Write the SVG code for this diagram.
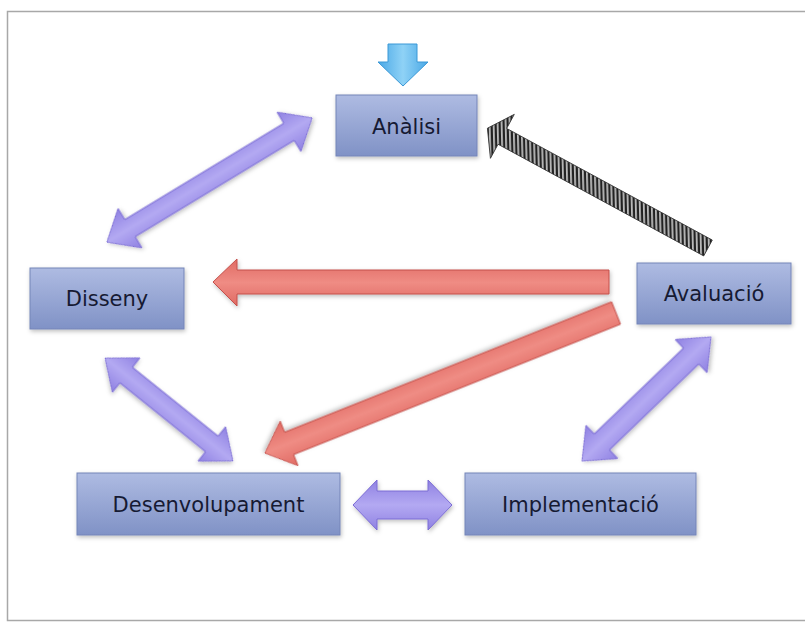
<svg xmlns="http://www.w3.org/2000/svg" width="805" height="626" viewBox="0 0 805 626">
<defs>
<linearGradient id="boxg" x1="0" y1="0" x2="0" y2="1">
<stop offset="0" stop-color="#aebbe2"/>
<stop offset="1" stop-color="#8092c6"/>
</linearGradient>
<linearGradient id="purg" x1="0" y1="0" x2="0" y2="1">
<stop offset="0" stop-color="#8f81e2"/>
<stop offset="0.5" stop-color="#b3a9f2"/>
<stop offset="1" stop-color="#8f81e2"/>
</linearGradient>
<linearGradient id="redg" x1="0" y1="0" x2="0" y2="1">
<stop offset="0" stop-color="#e06a63"/>
<stop offset="0.5" stop-color="#ef8c84"/>
<stop offset="1" stop-color="#e06a63"/>
</linearGradient>
<linearGradient id="blueg" x1="0" y1="0" x2="1" y2="0">
<stop offset="0" stop-color="#4aa8e6"/>
<stop offset="0.5" stop-color="#8fd2f6"/>
<stop offset="1" stop-color="#4aa8e6"/>
</linearGradient>
<pattern id="hatch" width="4" height="4" patternUnits="userSpaceOnUse" patternTransform="rotate(-30)">
<rect width="4" height="4" fill="#bdbdbd"/>
<rect width="2.2" height="4" fill="#222222"/>
</pattern>
<filter id="sh" x="-10%" y="-10%" width="130%" height="140%">
<feDropShadow dx="1" dy="2" stdDeviation="2" flood-color="#000" flood-opacity="0.25"/>
</filter>
<style>
.box { fill: url(#boxg); stroke: #7585b8; stroke-width: 1; filter: url(#sh); }
.lbl { font-family: "DejaVu Sans", "Liberation Sans", sans-serif; font-size: 21px; fill: #161a33; text-anchor: middle; }
.pur { fill: url(#purg); stroke: #7b6cd4; stroke-width: 1; filter: url(#sh); }
.red { fill: url(#redg); stroke: #c4504b; stroke-width: 1; filter: url(#sh); }
.blu { fill: url(#blueg); stroke: #3a98d6; stroke-width: 1; }
.hat { fill: url(#hatch); stroke: #333333; stroke-width: 0.8; }
</style>
</defs>
<rect x="0" y="0" width="805" height="626" fill="#ffffff"/>
<rect x="7.5" y="11.5" width="810" height="609" fill="#ffffff" stroke="#a8a8a8" stroke-width="1.5"/>

<g id="connectors">
<polygon class="blu" points="388,44 417,44 417,62 428,62 403,86 378,62 388,62"/>
<polygon class="hat" transform="translate(708,248) rotate(-151.5)" points="0,-9 234,-9 234,-25 251,0 234,25 234,9 0,9"/>
<polygon class="pur" transform="translate(209.5,180) rotate(-31.2)" points="-120,0 -93,-23 -93,-10 93,-10 93,-23 120,0 93,23 93,10 -93,10 -93,23"/>
<polygon class="red" points="213,282 237,259 237,270 609,270 609,294 237,294 237,306"/>
<polygon class="red" transform="translate(616,313) rotate(158.25)" points="0,-12 352,-12 352,-24 378,0 352,24 352,12 0,12"/>
<polygon class="pur" transform="translate(169,409.5) rotate(38.8)" points="-82,0 -55,-22 -55,-10 55,-10 55,-22 82,0 55,22 55,10 -55,10 -55,22"/>
<polygon class="pur" transform="translate(646.5,399) rotate(-43.9)" points="-89.5,0 -62,-23 -62,-11 62,-11 62,-23 89.5,0 62,23 62,11 -62,11 -62,23"/>
<polygon class="pur" points="353,505 377,480 377,491 428,491 428,480 452,505 428,530 428,519 377,519 377,530"/>
</g>

<g id="analisi">
<rect class="box" x="336" y="95" width="141" height="61"/>
<text class="lbl" x="406.5" y="134">Anàlisi</text>
</g>
<g id="disseny">
<rect class="box" x="30" y="268" width="154" height="61"/>
<text class="lbl" x="107" y="306">Disseny</text>
</g>
<g id="avaluacio">
<rect class="box" x="637" y="263" width="154" height="61"/>
<text class="lbl" x="714" y="301">Avaluació</text>
</g>
<g id="desenvolupament">
<rect class="box" x="77" y="473" width="263" height="62"/>
<text class="lbl" x="208.5" y="512">Desenvolupament</text>
</g>
<g id="implementacio">
<rect class="box" x="465" y="473" width="231" height="62"/>
<text class="lbl" x="580.5" y="512">Implementació</text>
</g>
</svg>
